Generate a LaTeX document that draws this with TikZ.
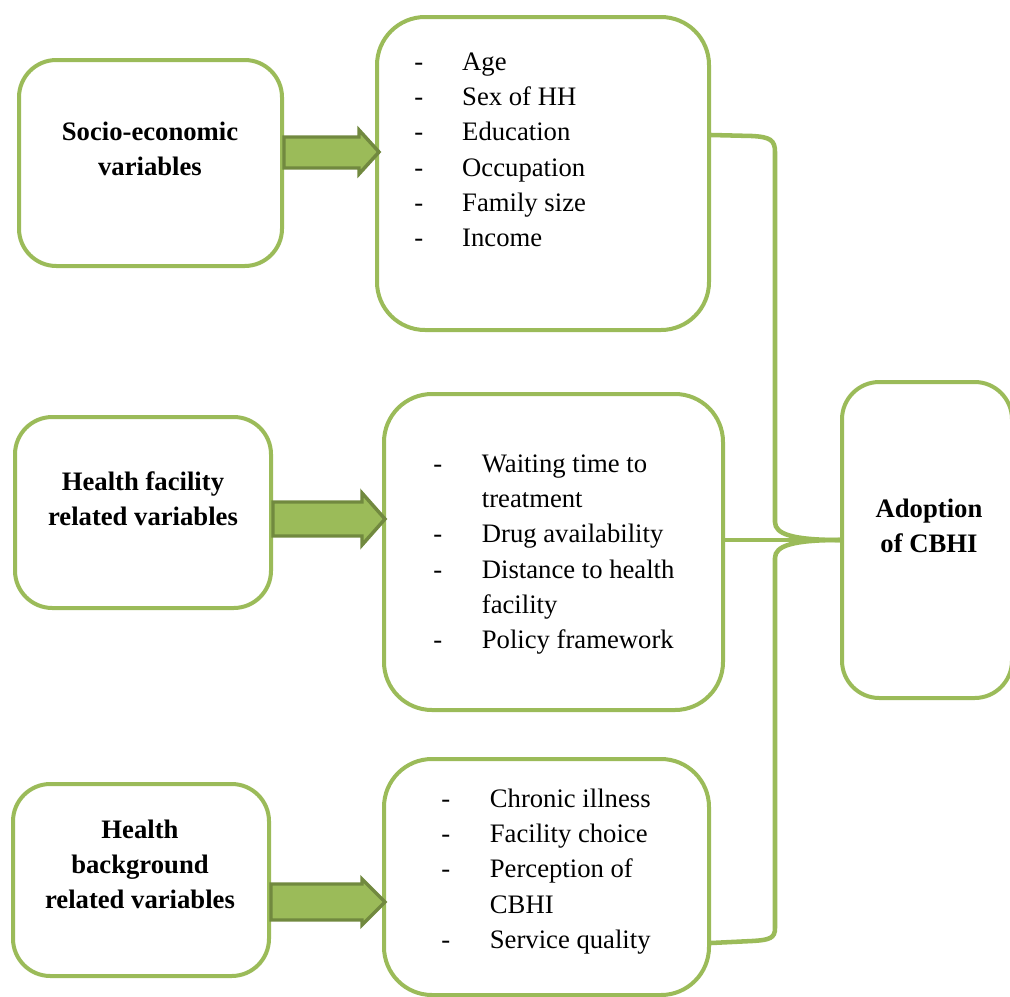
\documentclass[tikz,border=0pt]{standalone}
\usepackage{fontspec}
\setmainfont{Liberation Serif}
\usetikzlibrary{fit}
\definecolor{boxgreen}{HTML}{9BBB59}
\definecolor{arrowborder}{HTML}{71893F}
\begin{document}
\begin{tikzpicture}[x=0.75pt,y=-0.75pt,
  box/.style={draw=boxgreen, line width=3pt, rounded corners=28pt, inner sep=0pt, fill=white},
  bigbox/.style={box, rounded corners=36pt},
  label/.style={inner sep=0pt, anchor=base, font=\fontsize{20}{26.5}\selectfont\bfseries},
  items/.style={inner sep=0pt, anchor=base west, font=\fontsize{20}{26.5}\selectfont},
  blockarrow/.style={fill=boxgreen, draw=arrowborder, line width=2.6pt, line join=miter},
  brace/.style={draw=boxgreen, line width=3.4pt}]
\useasboundingbox (0,0) rectangle (1010,996);
\clip (0,0) rectangle (1010,996);

% boxes
\node[box, fit={(19,60)(282,266)}] (l1) {};
\node[box, fit={(15,417)(271,608)}] (l2) {};
\node[box, fit={(13,784)(269,976)}] (l3) {};
\node[bigbox, fit={(377,17)(709,330)}] (m1) {};
\node[bigbox, fit={(384,394)(723,710)}] (m2) {};
\node[bigbox, fit={(384,759)(709,995)}] (m3) {};
\node[box, fit={(842,382)(1012,698)}] (r) {};

% connectors to the outcome box
\draw[brace] (m2.east |- 0,540) -- (r.west |- 0,540);
\draw[brace] (m1.east |- 0,135) -- (752,136) .. controls (770,137) and (775,140) .. (775,152)
  -- (775,522) .. controls (775,534) and (792,540) .. (r.west |- 0,540);
\draw[brace] (r.west |- 0,540) .. controls (792,540) and (775,546) .. (775,558)
  -- (775,928) .. controls (775,938) and (770,940) .. (752,941) -- (m3.east |- 0,943);

% block arrows
\filldraw[blockarrow] (l1.east |- 0,137) -- (359,137) -- (359,130) -- (379,152)
  -- (359,174) -- (359,168) -- (l1.east |- 0,168) -- cycle;
\filldraw[blockarrow] (l2.east |- 0,502) -- (362,502) -- (362,493) -- (385,519)
  -- (362,545) -- (362,536) -- (l2.east |- 0,536) -- cycle;
\filldraw[blockarrow] (l3.east |- 0,884) -- (362,884) -- (362,879) -- (385,902)
  -- (362,925) -- (362,920) -- (l3.east |- 0,920) -- cycle;

% labels
\node[label] (t1) at (150,140) {\begin{tabular}[t]{@{}c@{}}Socio-economic\\variables\end{tabular}};
\node[label] (t2) at (143,490) {\begin{tabular}[t]{@{}c@{}}Health facility\\related variables\end{tabular}};
\node[label] (t3) at (140,838) {\begin{tabular}[t]{@{}c@{}}Health\\background\\related variables\end{tabular}};
\node[label] (t4) at (929,517) {\begin{tabular}[t]{@{}c@{}}Adoption\\of CBHI\end{tabular}};

% lists
\node[items] (i1) at (414,70) {\begin{tabular}[t]{@{}p{36pt}@{}l@{}}
-& Age\\
-& Sex of HH\\
-& Education\\
-& Occupation\\
-& Family size\\
-& Income
\end{tabular}};
\node[items] (i2) at (433,472) {\begin{tabular}[t]{@{}p{36.5pt}@{}l@{}}
-& Waiting time to\\
 & treatment\\
-& Drug availability\\
-& Distance to health\\
 & facility\\
-& Policy framework
\end{tabular}};
\node[items] (i3) at (441,807) {\begin{tabular}[t]{@{}p{36.5pt}@{}l@{}}
-& Chronic illness\\
-& Facility choice\\
-& Perception of\\
 & CBHI\\
-& Service quality
\end{tabular}};
\end{tikzpicture}
\end{document}
